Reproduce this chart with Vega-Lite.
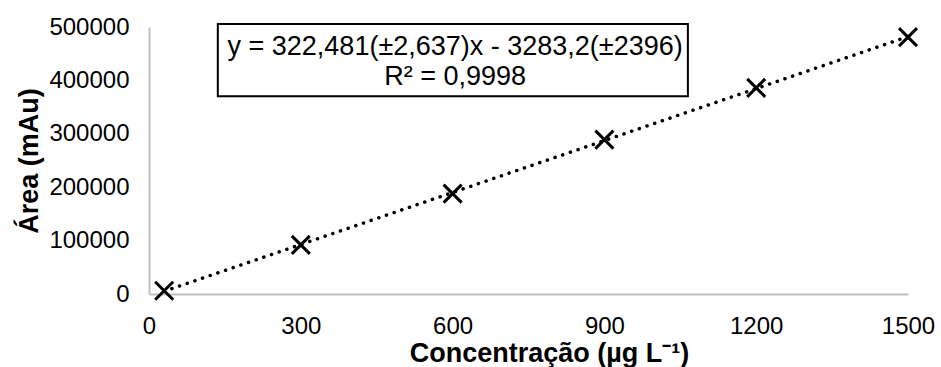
{
  "$schema": "https://vega.github.io/schema/vega-lite/v6.json",
  "autosize": "none",
  "width": 759,
  "height": 267,
  "padding": {"left": 149, "top": 27, "right": 33, "bottom": 73},
  "background": "white",
  "config": {
    "view": {"stroke": null},
    "font": "Liberation Sans",
    "axis": {"grid": false, "ticks": false, "tickSize": 0, "domainColor": "#bfbfbf", "domainWidth": 2, "labelFont": "Liberation Sans", "labelFontSize": 24, "labelColor": "#000000", "titleFont": "Liberation Sans", "titleFontWeight": "bold", "titleColor": "#000000"}
  },
  "layer": [
    {
      "data": {"name": "points", "values": [
        {"conc": 30, "area": 6000},
        {"conc": 300, "area": 92000},
        {"conc": 600, "area": 188000},
        {"conc": 900, "area": 289000},
        {"conc": 1200, "area": 386000},
        {"conc": 1500, "area": 481000}
      ]},
      "layer": [
        {
          "transform": [{"regression": "area", "on": "conc"}],
          "mark": {"type": "line", "color": "#000000", "strokeWidth": 3.5, "strokeCap": "round", "strokeDash": [0.1, 8]},
          "encoding": {
            "x": {"field": "conc", "type": "quantitative", "scale": {"domain": [0, 1500], "nice": false, "zero": false},
                  "axis": {"values": [0, 300, 600, 900, 1200, 1500], "format": "d", "labelFlush": false, "labelOverlap": false, "labelPadding": 20, "title": "Concentração (µg L⁻¹)", "titleFontSize": 27, "titlePadding": 2, "titleX": 400}},
            "y": {"field": "area", "type": "quantitative", "scale": {"domain": [0, 500000], "nice": false, "zero": false},
                  "axis": {"values": [0, 100000, 200000, 300000, 400000, 500000], "format": "d", "labelPadding": 20, "title": "Área (mAu)", "titleFontSize": 27, "titlePadding": 5}}
          }
        },
        {
          "mark": {"type": "point", "shape": "M-1,-1L1,1M-1,1L1,-1", "filled": false, "size": 324, "strokeWidth": 3, "color": "#000000", "opacity": 1},
          "encoding": {
            "x": {"field": "conc", "type": "quantitative", "scale": {"domain": [0, 1500], "nice": false, "zero": false}},
            "y": {"field": "area", "type": "quantitative", "scale": {"domain": [0, 500000], "nice": false, "zero": false}}
          }
        }
      ]
    },
    {
      "data": {"values": [{"label": "box"}]},
      "mark": {"type": "rect", "fill": "white", "stroke": "#000000", "strokeWidth": 2, "clip": false},
      "encoding": {
        "x": {"datum": 136, "type": "quantitative", "scale": {"domain": [0, 1500], "nice": false, "zero": false}},
        "x2": {"datum": 1065},
        "y": {"datum": 505600, "type": "quantitative", "scale": {"domain": [0, 500000], "nice": false, "zero": false}},
        "y2": {"datum": 370300}
      }
    },
    {
      "data": {"values": [{"label": "eq"}]},
      "mark": {"type": "text", "fontSize": 27, "fontWeight": "normal", "font": "Liberation Sans", "fill": "#000000", "align": "center", "baseline": "middle", "text": "y = 322,481(±2,637)x - 3283,2(±2396)"},
      "encoding": {
        "x": {"datum": 605, "type": "quantitative", "scale": {"domain": [0, 1500], "nice": false, "zero": false}},
        "y": {"datum": 463000, "type": "quantitative", "scale": {"domain": [0, 500000], "nice": false, "zero": false}}
      }
    },
    {
      "data": {"values": [{"label": "r2"}]},
      "mark": {"type": "text", "fontSize": 27, "fontWeight": "normal", "font": "Liberation Sans", "fill": "#000000", "align": "center", "baseline": "middle", "text": "R² = 0,9998"},
      "encoding": {
        "x": {"datum": 605, "type": "quantitative", "scale": {"domain": [0, 1500], "nice": false, "zero": false}},
        "y": {"datum": 406000, "type": "quantitative", "scale": {"domain": [0, 500000], "nice": false, "zero": false}}
      }
    }
  ]
}
